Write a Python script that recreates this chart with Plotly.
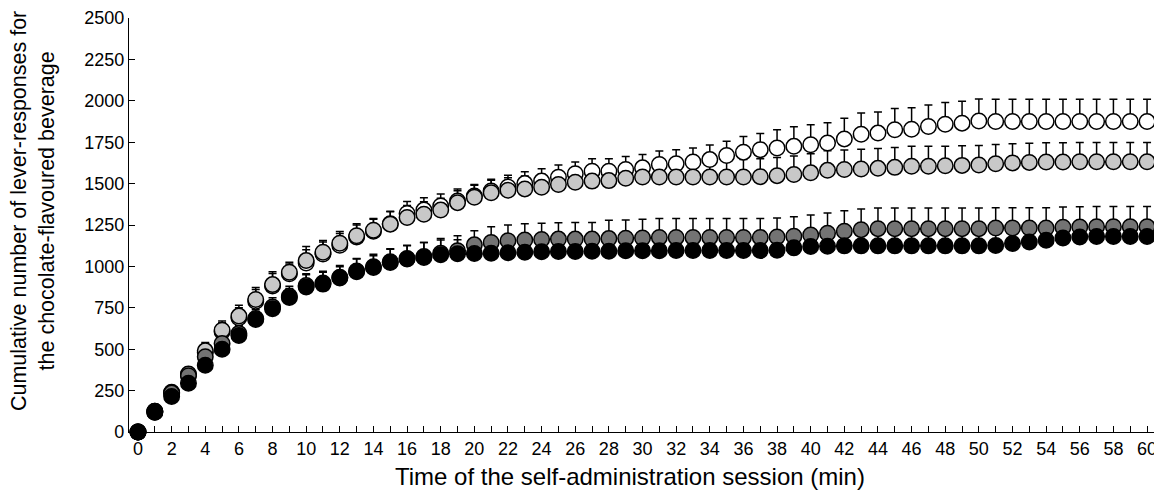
import plotly.graph_objects as go

minutes = list(range(61))

white = [0, 120, 235, 345, 480, 605, 690, 790, 882, 955,
         1020, 1075, 1128, 1178, 1212, 1258, 1320, 1340, 1365, 1395,
         1425, 1455, 1480, 1500, 1515, 1538, 1560, 1575, 1575, 1585,
         1595, 1615, 1620, 1630, 1645, 1670, 1690, 1705, 1715, 1725,
         1735, 1745, 1770, 1798, 1805, 1825, 1828, 1845, 1858, 1865,
         1878, 1875, 1875, 1875, 1875, 1875, 1875, 1875, 1875, 1875, 1875]
white_sem = [0, 20, 30, 40, 50, 55, 60, 70, 75, 60,
             80, 72, 70, 72, 72, 75, 72, 75, 72, 72,
             70, 72, 70, 72, 75, 75, 70, 75, 75, 78,
             80, 82, 85, 85, 88, 85, 95, 98, 110, 118,
             120, 122, 125, 128, 128, 128, 130, 130, 132, 132,
             133, 135, 135, 135, 135, 135, 135, 135, 135, 135, 135]

light = [0, 125, 240, 350, 490, 615, 700, 800, 890, 965,
         1035, 1085, 1140, 1185, 1218, 1255, 1295, 1315, 1340, 1385,
         1418, 1445, 1460, 1468, 1478, 1495, 1508, 1515, 1518, 1532,
         1540, 1540, 1540, 1540, 1540, 1540, 1540, 1542, 1548, 1555,
         1565, 1580, 1585, 1588, 1592, 1598, 1605, 1605, 1608, 1610,
         1612, 1620, 1625, 1628, 1630, 1630, 1632, 1632, 1632, 1632, 1632]
light_sem = [0, 20, 30, 40, 50, 55, 65, 72, 78, 60,
             85, 72, 70, 72, 72, 75, 72, 75, 72, 72,
             72, 75, 75, 78, 78, 80, 80, 82, 82, 85,
             90, 95, 98, 100, 102, 105, 105, 108, 110, 112,
             115, 118, 118, 120, 120, 120, 120, 120, 118, 118,
             118, 116, 116, 116, 116, 116, 116, 116, 116, 116, 116]

dark = [0, 125, 235, 340, 455, 535, 595, 685, 755, 820,
        885, 900, 935, 972, 998, 1028, 1048, 1060, 1080, 1095,
        1130, 1145, 1155, 1160, 1162, 1165, 1165, 1165, 1168, 1170,
        1172, 1175, 1175, 1175, 1175, 1175, 1175, 1175, 1178, 1182,
        1190, 1200, 1212, 1222, 1228, 1228, 1228, 1228, 1228, 1228,
        1228, 1232, 1232, 1232, 1232, 1236, 1238, 1240, 1240, 1240, 1240]
dark_sem = [0, 15, 25, 35, 40, 45, 50, 55, 55, 60,
            65, 70, 70, 75, 75, 78, 80, 85, 88, 90,
            85, 95, 95, 98, 98, 98, 100, 100, 110, 110,
            112, 115, 115, 115, 115, 115, 115, 115, 115, 118,
            120, 122, 124, 125, 125, 125, 125, 125, 125, 125,
            125, 122, 122, 122, 122, 122, 122, 122, 122, 122, 122]

black = [0, 120, 215, 295, 403, 500, 583, 679, 745, 812,
         875, 893, 930, 968, 994, 1024, 1044, 1054, 1070, 1076,
         1078, 1080, 1082, 1086, 1088, 1090, 1090, 1092, 1092, 1094,
         1094, 1094, 1096, 1096, 1096, 1096, 1096, 1096, 1098, 1112,
         1120, 1122, 1124, 1124, 1124, 1124, 1124, 1124, 1124, 1124,
         1124, 1126, 1138, 1148, 1158, 1172, 1178, 1180, 1180, 1180, 1180]
black_sem = [0, 15, 20, 30, 35, 40, 45, 48, 48, 55,
             80, 71, 68, 76, 70, 80, 80, 90, 90, 85,
             85, 85, 88, 88, 90, 90, 90, 90, 92, 92,
             95, 95, 95, 95, 95, 95, 95, 95, 95, 95,
             98, 98, 98, 98, 98, 98, 98, 98, 98, 98,
             98, 98, 98, 98, 98, 98, 98, 98, 98, 98, 98]

series = [
    ("Group 1", white, white_sem, "#ffffff"),
    ("Group 2", light, light_sem, "#c8c8c8"),
    ("Group 3", dark, dark_sem, "#737373"),
    ("Group 4", black, black_sem, "#000000"),
]

x_title = "Time of the self-administration session (min)"
y_title = "Cumulative number of lever-responses for<br>the chocolate-flavoured beverage"

fig = go.Figure()

# error bars first (all behind the symbols)
for name, vals, sem, col in series:
    fig.add_trace(go.Scatter(
        x=minutes, y=vals, mode="markers",
        marker=dict(size=1, color="rgba(0,0,0,0)"),
        error_y=dict(type="data", array=sem, arrayminus=[0] * len(sem),
                     symmetric=False, color="#000000", thickness=1.5, width=4),
        showlegend=False, hoverinfo="skip", cliponaxis=False,
    ))

for name, vals, sem, col in series:
    fig.add_trace(go.Scatter(
        x=minutes, y=vals, mode="markers", name=name,
        marker=dict(size=15.5, color=col, line=dict(color="#000000", width=1.5)),
        showlegend=False, cliponaxis=False,
    ))

font_family = "Liberation Sans, Arial, sans-serif"

fig.update_layout(
    width=1154, height=488,
    margin=dict(l=121, r=2, t=10, b=64, autoexpand=False),
    plot_bgcolor="#ffffff", paper_bgcolor="#ffffff",
    font=dict(family=font_family, size=18, color="#000000"),
    xaxis=dict(
        range=[-0.535, 60.77], dtick=2, tick0=0,
        ticks="inside", ticklen=6, tickwidth=1, tickcolor="#000000",
        minor=dict(dtick=1, tick0=0, ticks="inside", ticklen=6, tickwidth=1, tickcolor="#000000"),
        showline=True, linecolor="#000000", linewidth=1.2,
        showgrid=False, zeroline=False, automargin=False,
        tickfont=dict(size=18), ticklabeloverflow="allow",
    ),
    yaxis=dict(
        range=[0, 2500], dtick=250, tick0=0,
        ticks="inside", ticklen=6, tickwidth=1, tickcolor="#000000",
        showline=True, linecolor="#000000", linewidth=1.2,
        showgrid=False, zeroline=False, automargin=False,
        tickfont=dict(size=18), ticklabeloverflow="allow",
    ),
    annotations=[
        dict(text=x_title, xref="paper", yref="paper", x=0.486, y=-0.108,
             xanchor="center", yanchor="middle", showarrow=False,
             font=dict(size=24)),
        dict(text=y_title, xref="paper", yref="paper", x=-0.093, y=0.534,
             xanchor="center", yanchor="middle", showarrow=False, textangle=-90,
             font=dict(size=21.5)),
    ],
)

fig.write_html("out.html")
